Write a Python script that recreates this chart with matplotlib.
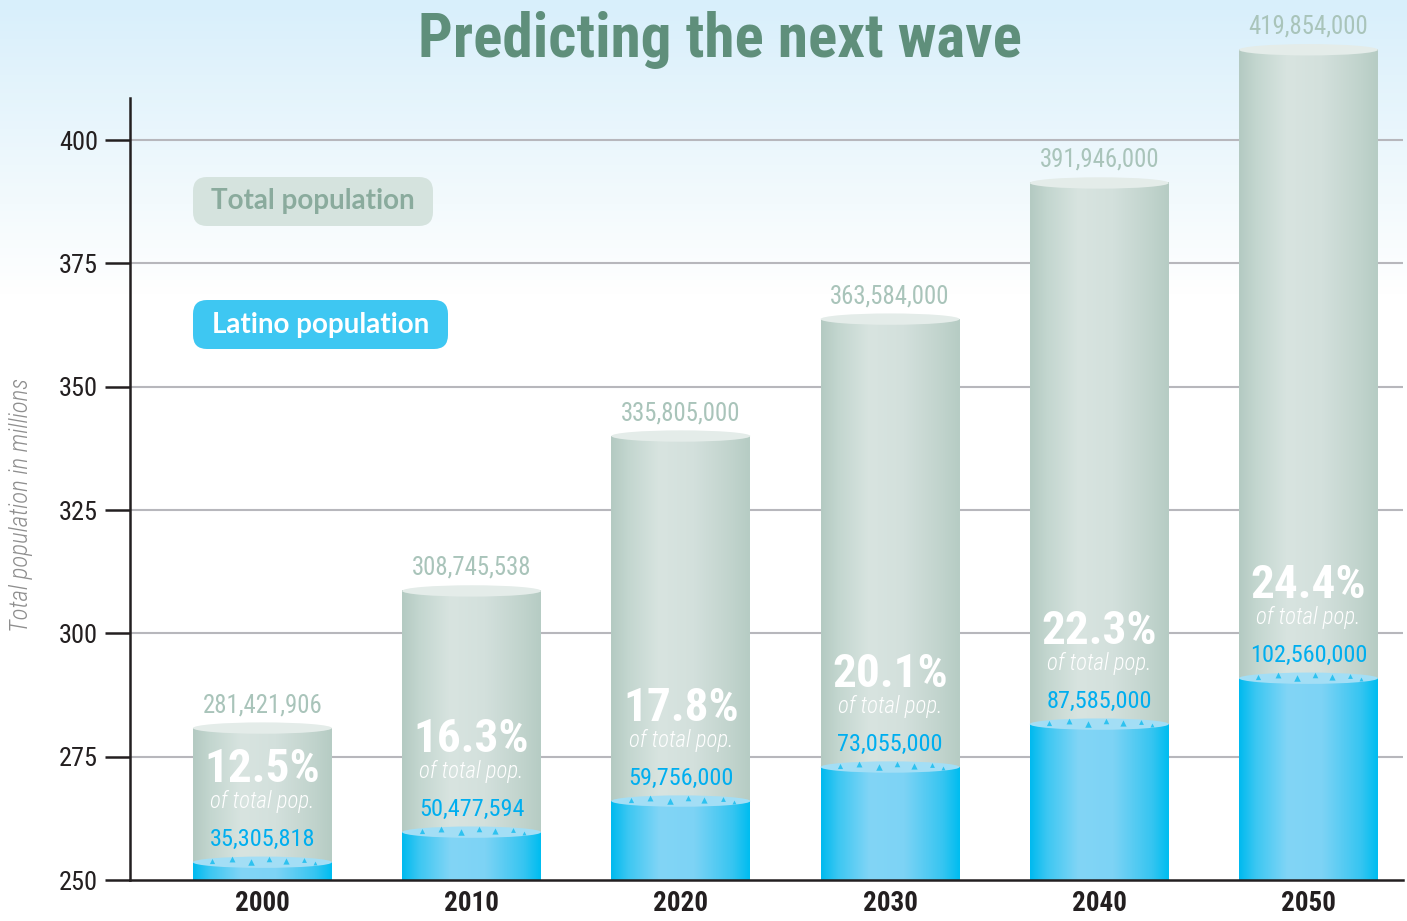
import os
import numpy as np
import matplotlib
matplotlib.use('Agg')
import matplotlib.pyplot as plt
from matplotlib import font_manager as fm
from matplotlib.font_manager import FontProperties
from matplotlib.patches import Ellipse, FancyBboxPatch
from matplotlib.colors import LinearSegmentedColormap

# ---------------- data ----------------
years = ['2000', '2010', '2020', '2030', '2040', '2050']
total_tops = [280.8, 308.6, 340.0, 363.7, 391.3, 418.3]      # drawn height of total bars (millions)
latino_tops = [253.6, 259.7, 266.0, 272.9, 281.6, 290.9]     # drawn height of latino fill
total_labels = ['281,421,906', '308,745,538', '335,805,000', '363,584,000', '391,946,000', '419,854,000']
latino_labels = ['35,305,818', '50,477,594', '59,756,000', '73,055,000', '87,585,000', '102,560,000']
pct_labels = ['12.5%', '16.3%', '17.8%', '20.1%', '22.3%', '24.4%']
yticks = [250, 275, 300, 325, 350, 375, 400]
ymin = 250

# ---------------- fonts: look for a condensed face ----------------
_files = {}
for f in fm.fontManager.ttflist:
    _files.setdefault(os.path.basename(f.fname).lower(), f.fname)


def find_font(names, fallback_kw):
    for n in names:
        p = _files.get(n.lower())
        if p:
            return FontProperties(fname=p), True
    return FontProperties(**fallback_kw), False


F_REG, C_REG = find_font(['NotoSans-Condensed.ttf', 'RobotoCondensed-Regular.ttf', 'OpenSans_Condensed-Regular.ttf',
                          'OpenSans-CondRegular.ttf', 'LiberationSansNarrow-Regular.ttf', 'DejaVuSansCondensed.ttf'],
                         dict(family=['Roboto', 'DejaVu Sans']))
F_BOLD, C_BOLD = find_font(['NotoSans-CondensedBold.ttf', 'RobotoCondensed-Bold.ttf', 'OpenSans_Condensed-Bold.ttf',
                            'OpenSans-CondBold.ttf', 'LiberationSansNarrow-Bold.ttf', 'DejaVuSansCondensed-Bold.ttf'],
                           dict(family=['Roboto', 'DejaVu Sans'], weight='bold'))
F_ITAL, C_ITAL = find_font(['NotoSans-CondensedLightItalic.ttf', 'NotoSans-CondensedItalic.ttf',
                            'RobotoCondensed-LightItalic.ttf', 'RobotoCondensed-Italic.ttf',
                            'OpenSans-CondLightItalic.ttf', 'LiberationSansNarrow-Italic.ttf',
                            'DejaVuSansCondensed-Oblique.ttf'],
                           dict(family=['Roboto', 'DejaVu Sans'], style='italic'))


def fp(base, cond, size):
    p = base.copy()
    p.set_size(size if cond else size * 0.8)
    return p


W, H = 1407, 921
fig = plt.figure(figsize=(W / 100, H / 100), dpi=100)

# background gradient
bg = fig.add_axes([0, 0, 1, 1], zorder=-10)
g = np.linspace(0, 1, 256).reshape(-1, 1)
bgcmap = LinearSegmentedColormap.from_list('bg', [(0, '#d8effb'), (0.22, '#f3fafd'), (0.32, '#ffffff'), (1, '#ffffff')])
bg.imshow(g, extent=[0, 1, 0, 1], aspect='auto', cmap=bgcmap, origin='upper')
bg.set_xlim(0, 1); bg.set_ylim(0, 1)
bg.axis('off')

ax = fig.add_axes([130 / W, (H - 880) / H, (1403 - 130) / W, (880 - 98) / H])
ax.set_facecolor('none')

gray_cmap = LinearSegmentedColormap.from_list('g', [(0, '#b4cac2'), (0.12, '#c3d6cf'), (0.35, '#d8e4e0'),
                                                   (0.6, '#d3e0dc'), (0.88, '#c0d3cc'), (1, '#b6ccc4')])
blue_cmap = LinearSegmentedColormap.from_list('b', [(0, '#00baef'), (0.12, '#3cc7f2'), (0.35, '#82d5f6'),
                                                   (0.6, '#7dd3f5'), (0.88, '#36c5f1'), (1, '#00bdf0')])
row = np.linspace(0, 1, 200).reshape(1, -1)
bw = 0.664
eh = 2.3
x = np.arange(len(years))

for i in range(len(years)):
    xc = x[i]
    im = ax.imshow(row, extent=[xc - bw / 2, xc + bw / 2, ymin, total_tops[i]], aspect='auto',
                   cmap=gray_cmap, interpolation='bilinear', zorder=2)
    im.set_clip_on(False)
    ax.add_patch(Ellipse((xc, total_tops[i]), bw, eh, fc='#e4ece9', ec='none', zorder=3, clip_on=False))
    im2 = ax.imshow(row, extent=[xc - bw / 2, xc + bw / 2, ymin, latino_tops[i]], aspect='auto',
                    cmap=blue_cmap, interpolation='bilinear', zorder=4)
    im2.set_clip_on(False)
    ax.add_patch(Ellipse((xc, latino_tops[i]), bw, eh, fc='#a3def5', ec='none', zorder=5, clip_on=False))
    # little wave crests on the water surface
    for dx, dy, s in [(-0.36, 0.3, 14), (-0.22, 0.6, 18), (-0.08, 0.1, 22), (0.05, 0.7, 16),
                      (0.17, 0.2, 20), (0.3, 0.5, 12), (0.38, -0.1, 8)]:
        ax.scatter(xc + dx * bw, latino_tops[i] + dy, marker='^', s=s, color='#2ec2f0',
                   lw=0, zorder=6, clip_on=False)

    ax.annotate(total_labels[i], xy=(xc, total_tops[i]), xytext=(0, 23 * 0.72), textcoords='offset points',
                ha='center', va='center', fontproperties=fp(F_REG, C_REG, 17.8), color='#a9c4ba', zorder=7,
                annotation_clip=False)
    ax.annotate(latino_labels[i], xy=(xc, latino_tops[i]), xytext=(0, 23 * 0.72), textcoords='offset points',
                ha='center', va='center', fontproperties=fp(F_REG, C_REG, 17.5), color='#00aeef', zorder=7,
                annotation_clip=False)
    ax.annotate('of total pop.', xy=(xc, latino_tops[i]), xytext=(0, 61 * 0.72), textcoords='offset points',
                ha='center', va='center', fontproperties=fp(F_ITAL, C_ITAL, 16.5), color='white',
                zorder=7, annotation_clip=False)
    ax.annotate(pct_labels[i], xy=(xc, latino_tops[i]), xytext=(0, 93 * 0.72), textcoords='offset points',
                ha='center', va='center', fontproperties=fp(F_BOLD, C_BOLD, 34), color='white',
                zorder=7, annotation_clip=False)

ax.set_xlim(-0.633, 5.452)
ax.set_ylim(ymin, ymin + 782 / 4.933)
ax.set_yticks(yticks)
ax.set_yticklabels([str(t) for t in yticks], fontproperties=fp(F_REG, C_REG, 19), color='#231f20')
ax.set_xticks(x)
ax.set_xticklabels(years, fontproperties=fp(F_BOLD, C_BOLD, 19.5), color='#231f20')
ax.tick_params(axis='y', length=18, width=1.8, color='#231f20', pad=5)
ax.tick_params(axis='x', length=0, pad=7)
for t in yticks[1:]:
    ax.axhline(t, color='#b7b7bc', lw=1.5, zorder=1)
for s in ['top', 'right']:
    ax.spines[s].set_visible(False)
for s in ['left', 'bottom']:
    ax.spines[s].set_color('#231f20')
    ax.spines[s].set_linewidth(1.8)
    ax.spines[s].set_zorder(8)

# title and axis label
fig.text(720 / W, 1 - 40 / H, 'Predicting the next wave', ha='center', va='center',
         fontproperties=fp(F_BOLD, C_BOLD, 44), color='#5f8f7b')
fig.text(21 / W, 1 - 505 / H, 'Total population in millions', rotation=90, ha='center', va='center',
         fontproperties=fp(F_ITAL, C_ITAL, 18), color='#8e8e8e')

# legend pills
def pill(x0, y0, x1, y1, fc, text, tc):
    p = FancyBboxPatch((x0 / 100, (H - y1) / 100), (x1 - x0) / 100, (y1 - y0) / 100,
                       boxstyle='round,pad=0,rounding_size=0.14', transform=fig.dpi_scale_trans,
                       fc=fc, ec='none', zorder=20)
    fig.patches.append(p)
    fig.text((x0 + x1) / 2 / W, 1 - (y0 + y1) / 2 / H, text, ha='center', va='center', fontsize=20,
             weight='bold', family=['Lato', 'DejaVu Sans'], color=tc, zorder=21)

pill(193, 177, 433, 226, '#d5e3de', 'Total population', '#8aab9d')
pill(193, 300, 448, 349, '#3ec7f2', 'Latino population', 'white')

fig.savefig('out.png', dpi=100)
